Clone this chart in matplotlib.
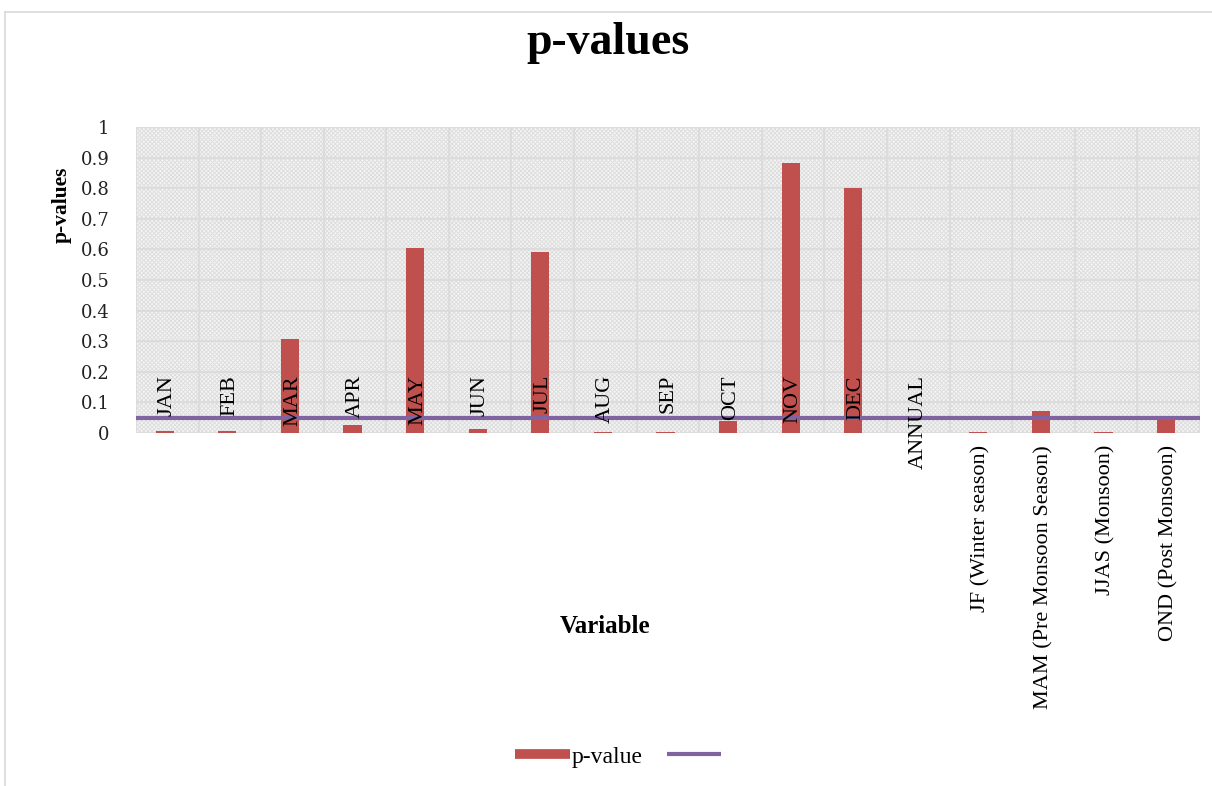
import numpy as np
import matplotlib
matplotlib.use("Agg")
import matplotlib.pyplot as plt
from matplotlib.lines import Line2D
from matplotlib.patches import Rectangle

categories = ["JAN", "FEB", "MAR", "APR", "MAY", "JUN", "JUL", "AUG", "SEP",
              "OCT", "NOV", "DEC", "ANNUAL", "JF (Winter season)",
              "MAM (Pre Monsoon Season)", "JJAS (Monsoon)", "OND (Post Monsoon)"]
p_values = [0.005, 0.008, 0.308, 0.026, 0.604, 0.013, 0.593, 0.004, 0.004,
            0.040, 0.883, 0.800, 0.0, 0.002, 0.073, 0.002, 0.045]
threshold = 0.05
y_ticks = [0, 0.1, 0.2, 0.3, 0.4, 0.5, 0.6, 0.7, 0.8, 0.9, 1]
y_tick_labels = ["0", "0.1", "0.2", "0.3", "0.4", "0.5", "0.6", "0.7", "0.8", "0.9", "1"]

bar_col = "#C0504D"
line_col = "#8064A2"
grid_col = "#dcdcdc"
serif = "Liberation Serif"

fig = plt.figure(figsize=(12.12, 7.86), dpi=100)
ax = fig.add_axes([0.1122, 0.4491, 0.8778, 0.3893])

# outer chart frame (only top/left visible in the picture)
fig.add_artist(Line2D([5 / 1212, 1.0], [1 - 12 / 786, 1 - 12 / 786],
                      transform=fig.transFigure, color="#d9d9d9", lw=1.2))
fig.add_artist(Line2D([5 / 1212, 5 / 1212], [1 - 12 / 786, 0.0],
                      transform=fig.transFigure, color="#d9d9d9", lw=1.2))

x = np.arange(len(categories))
ax.set_xlim(-0.5, len(categories) - 0.5)
ax.set_ylim(0, 1)

# hatched plot background
plt.rcParams['hatch.linewidth'] = 0.7
ax.set_facecolor("#f5f5f5")
ax.add_patch(Rectangle((0, 0), 1, 1, transform=ax.transAxes, facecolor="none",
                       edgecolor="#dedede", hatch="xxxxxxxx", lw=0, zorder=0))

# grid
for yv in y_ticks:
    ax.axhline(yv, color=grid_col, lw=1.5, zorder=1)
for xv in np.arange(-0.5, len(categories) + 0.5, 1):
    ax.axvline(xv, color=grid_col, lw=1.5, zorder=1)
for s in ax.spines.values():
    s.set_visible(False)

ax.bar(x - 0.04, p_values, width=0.29, color=bar_col, zorder=2)
ax.axhline(threshold, color=line_col, lw=3, zorder=4)

ax.set_yticks(y_ticks)
ax.set_yticklabels(y_tick_labels, family="DejaVu Serif", fontsize=13, color="#222222")
ax.tick_params(axis="y", length=0, pad=19)
ax.set_xticks([])

# category labels, rotated, the short ones sit inside the plot
for i, name in enumerate(categories):
    ytop = 0.1895 if i < 13 else -0.039
    ax.text(i, ytop, name, rotation=90, ha="center", va="top",
            family=serif, fontsize=16, color="black",
            transform=ax.get_xaxis_transform(), zorder=5)

fig.text(0.502, 0.945, "p-values", ha="center", va="center",
         family=serif, fontsize=33, fontweight="bold")
fig.text(0.051, 0.739, "p-values", ha="center", va="center", rotation=90,
         family=serif, fontsize=15.5, fontweight="bold")
fig.text(0.4995, 0.2023, "Variable", ha="center", va="center",
         family=serif, fontsize=18, fontweight="bold")

handles = [Line2D([], [], color=bar_col, lw=7, solid_capstyle="butt"),
           Line2D([], [], color=line_col, lw=3, solid_capstyle="butt")]
fig.legend(handles, ["p-value", ""], loc="center", bbox_to_anchor=(0.511, 0.037),
           ncol=2, frameon=False, handlelength=2.3, handletextpad=0.1,
           columnspacing=1.0, prop={"family": serif, "size": 17})

fig.savefig("out.png", dpi=100)
